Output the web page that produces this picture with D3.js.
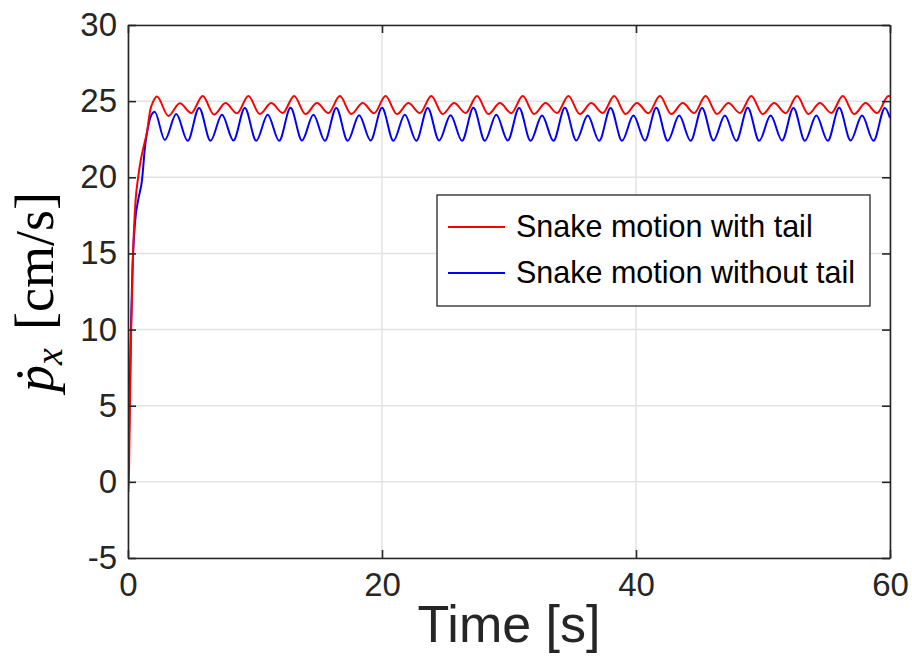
<!DOCTYPE html>
<html>
<head>
<meta charset="utf-8">
<script src="https://cdn.jsdelivr.net/npm/d3@7"></script>
<style>
  html, body { margin: 0; padding: 0; background: #ffffff; }
  svg { display: block; }
</style>
</head>
<body>
<svg id="chart" width="912" height="658"></svg>
<script>
// ---- Data ----
const xTicks = [0, 20, 40, 60];
const yTicks = [-5, 0, 5, 10, 15, 20, 25, 30];

const seriesNames = ["Snake motion with tail", "Snake motion without tail"];

// Red series: with tail (time in s, velocity in cm/s)
const timeWithTail = [0, 0.05, 0.12, 0.25, 0.4, 0.6, 0.8, 1.0, 1.2, 1.5, 1.75, 2.0, 2.28,
  3.18, 4.08, 4.98, 5.88,
  6.78, 7.68, 8.58, 9.48,
  10.38, 11.28, 12.18, 13.08,
  13.98, 14.88, 15.78, 16.68,
  17.58, 18.48, 19.38, 20.28,
  21.18, 22.08, 22.98, 23.88,
  24.78, 25.68, 26.58, 27.48,
  28.38, 29.28, 30.18, 31.08,
  31.98, 32.88, 33.78, 34.68,
  35.58, 36.48, 37.38, 38.28,
  39.18, 40.08, 40.98, 41.88,
  42.78, 43.68, 44.58, 45.48,
  46.38, 47.28, 48.18, 49.08,
  49.98, 50.88, 51.78, 52.68,
  53.58, 54.48, 55.38, 56.28,
  57.18, 58.08, 58.98, 59.88,
  60];
const velWithTail = [0, -0.7, 3, 10, 15, 18.5, 20, 21.1, 21.9, 23, 24.4, 25.0, 25.3,
  24.03, 24.86, 24.22, 25.34,
  24.12, 24.87, 24.2, 25.33,
  24.15, 24.88, 24.22, 25.34,
  24.15, 24.87, 24.22, 25.33,
  24.16, 24.88, 24.21, 25.34,
  24.15, 24.87, 24.22, 25.33,
  24.16, 24.88, 24.22, 25.34,
  24.15, 24.87, 24.21, 25.33,
  24.16, 24.88, 24.22, 25.34,
  24.15, 24.87, 24.22, 25.33,
  24.16, 24.88, 24.21, 25.34,
  24.15, 24.87, 24.22, 25.33,
  24.16, 24.88, 24.22, 25.34,
  24.15, 24.87, 24.21, 25.33,
  24.16, 24.88, 24.22, 25.34,
  24.15, 24.87, 24.22, 25.33,
  25.32];

// Blue series: without tail
const timeWithoutTail = [0, 0.1, 0.2, 0.35, 0.55, 0.8, 1.1, 1.35, 1.6, 1.85, 2.1,
  2.9, 3.8, 4.7, 5.6,
  6.5, 7.4, 8.3, 9.2,
  10.1, 11.0, 11.9, 12.8,
  13.7, 14.6, 15.5, 16.4,
  17.3, 18.2, 19.1, 20.0,
  20.9, 21.8, 22.7, 23.6,
  24.5, 25.4, 26.3, 27.2,
  28.1, 29.0, 29.9, 30.8,
  31.7, 32.6, 33.5, 34.4,
  35.3, 36.2, 37.1, 38.0,
  38.9, 39.8, 40.7, 41.6,
  42.5, 43.4, 44.3, 45.2,
  46.1, 47.0, 47.9, 48.8,
  49.7, 50.6, 51.5, 52.4,
  53.3, 54.2, 55.1, 56.0,
  56.9, 57.8, 58.7, 59.6,
  60];
const velWithoutTail = [0, 4, 9, 14, 17, 18.5, 19.8, 22.1, 23.4, 24.1, 24.3,
  22.45, 24.15, 22.4, 24.55,
  22.4, 24.1, 22.42, 24.55,
  22.4, 24.1, 22.4, 24.56,
  22.42, 24.1, 22.4, 24.55,
  22.4, 24.08, 22.42, 24.56,
  22.4, 24.1, 22.4, 24.55,
  22.42, 24.08, 22.4, 24.56,
  22.4, 24.1, 22.42, 24.55,
  22.4, 24.06, 22.4, 24.56,
  22.42, 24.05, 22.4, 24.55,
  22.4, 24.05, 22.42, 24.56,
  22.4, 24.05, 22.4, 24.55,
  22.42, 24.05, 22.4, 24.56,
  22.4, 24.05, 22.42, 24.55,
  22.4, 24.05, 22.4, 24.56,
  22.42, 24.05, 22.4, 24.55,
  23.9];

// ---- Layout ----
const svg = d3.select("#chart");
const mLeft = 128, mRight = 890, mTop = 25, mBottom = 558;
const axisColor = "#262626";
const gridColor = "#e3e3e3";

const x = d3.scaleLinear().domain([0, 60]).range([mLeft, mRight]);
const y = d3.scaleLinear().domain([-5, 30]).range([mBottom, mTop]);

// Grid
const grid = svg.append("g");
grid.selectAll("line.gx").data(xTicks).join("line")
  .attr("x1", d => x(d)).attr("x2", d => x(d))
  .attr("y1", mTop).attr("y2", mBottom)
  .attr("stroke", gridColor).attr("stroke-width", 1.5);
grid.selectAll("line.gy").data(yTicks).join("line")
  .attr("x1", mLeft).attr("x2", mRight)
  .attr("y1", d => y(d)).attr("y2", d => y(d))
  .attr("stroke", gridColor).attr("stroke-width", 1.5);

// Lines
const lineGen = d3.line()
  .x(d => x(d[0])).y(d => y(d[1]))
  .curve(d3.curveMonotoneX);

const redData = timeWithTail.map((t, i) => [t, velWithTail[i]]);
const blueData = timeWithoutTail.map((t, i) => [t, velWithoutTail[i]]);

svg.append("defs").append("clipPath").attr("id", "clip")
  .append("rect").attr("x", mLeft).attr("y", mTop - 2)
  .attr("width", mRight - mLeft + 1).attr("height", mBottom - mTop + 4);

const plot = svg.append("g").attr("clip-path", "url(#clip)");
plot.append("path").datum(blueData)
  .attr("d", lineGen).attr("fill", "none")
  .attr("stroke", "#0000ff").attr("stroke-width", 2);
plot.append("path").datum(redData)
  .attr("d", lineGen).attr("fill", "none")
  .attr("stroke", "#ff0000").attr("stroke-width", 2);

// Axes
function styleAxis(g) {
  g.selectAll("path.domain").attr("stroke", axisColor).attr("stroke-width", 1.6);
  g.selectAll(".tick line").attr("stroke", axisColor).attr("stroke-width", 1.6);
  g.selectAll(".tick text")
    .attr("fill", axisColor)
    .attr("font-family", "'Liberation Sans', Arial, Helvetica, sans-serif")
    .attr("font-size", 33);
}
const plainFmt = d => String(d);

svg.append("g").attr("transform", `translate(0,${mBottom})`)
  .call(d3.axisBottom(x).tickValues(xTicks).tickFormat(plainFmt).tickSize(-8).tickSizeOuter(0).tickPadding(15))
  .call(styleAxis);
svg.append("g").attr("transform", `translate(${mLeft},0)`)
  .call(d3.axisLeft(y).tickValues(yTicks).tickFormat(plainFmt).tickSize(-8).tickSizeOuter(0).tickPadding(11))
  .call(styleAxis);
svg.append("g").attr("transform", `translate(0,${mTop})`)
  .call(d3.axisTop(x).tickValues(xTicks).tickSize(-8).tickSizeOuter(0).tickFormat(""))
  .call(styleAxis);
svg.append("g").attr("transform", `translate(${mRight},0)`)
  .call(d3.axisRight(y).tickValues(yTicks).tickSize(-8).tickSizeOuter(0).tickFormat(""))
  .call(styleAxis);

// X label
svg.append("text")
  .attr("x", (mLeft + mRight) / 2).attr("y", 642)
  .attr("text-anchor", "middle")
  .attr("font-family", "'Liberation Sans', Arial, Helvetica, sans-serif")
  .attr("font-size", 52)
  .attr("fill", axisColor)
  .text("Time [s]");

// Y label
const yl = svg.append("text")
  .attr("transform", `translate(53,292) rotate(-90)`)
  .attr("text-anchor", "middle")
  .attr("font-family", "'Liberation Serif', 'DejaVu Serif', serif")
  .attr("font-size", 54)
  .attr("fill", "#000000");
yl.append("tspan").attr("font-style", "italic").text("ṗ");
yl.append("tspan").attr("font-style", "italic").attr("font-size", 38).attr("dy", 9).text("x");
yl.append("tspan").attr("dy", -9).attr("dx", 18).text("[cm/s]");

// Legend
const legend = svg.append("g");
legend.append("rect")
  .attr("x", 437).attr("y", 195).attr("width", 433).attr("height", 111)
  .attr("fill", "#ffffff").attr("stroke", axisColor).attr("stroke-width", 1.3);
const legendColors = ["#ff0000", "#0000ff"];
const legendY = [227, 273];
seriesNames.forEach((name, i) => {
  legend.append("line")
    .attr("x1", 448).attr("x2", 505)
    .attr("y1", legendY[i]).attr("y2", legendY[i])
    .attr("stroke", legendColors[i]).attr("stroke-width", 2);
  legend.append("text")
    .attr("x", 516).attr("y", legendY[i] + 10)
    .attr("font-family", "'Liberation Sans', Arial, Helvetica, sans-serif")
    .attr("font-size", 30.5)
    .attr("fill", "#000000")
    .text(name);
});
</script>
</body>
</html>
